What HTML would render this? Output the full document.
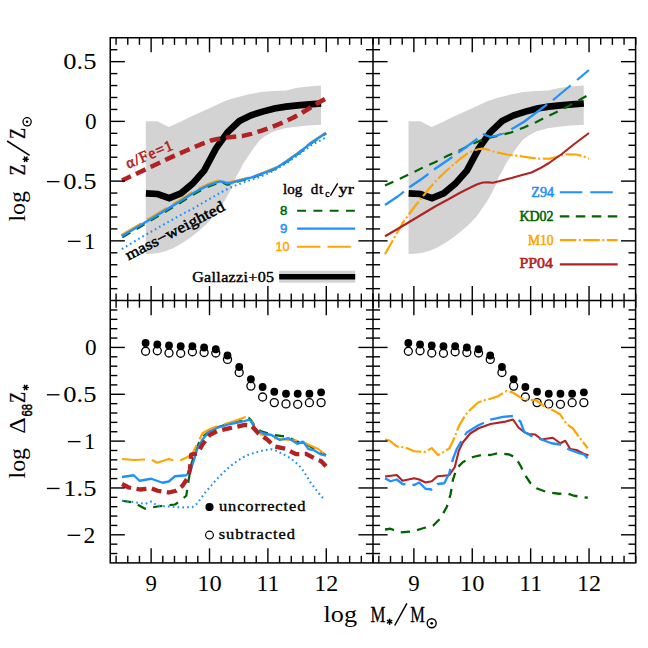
<!DOCTYPE html>
<html><head><meta charset="utf-8"><title>chart</title>
<style>html,body{margin:0;padding:0;background:#fff}svg{display:block}</style></head>
<body>
<svg width="648" height="648" viewBox="0 0 648 648">
<rect width="648" height="648" fill="#fff"/>
<polygon points="145.75,121.25 157.50,121.25 168.75,127.00 180.00,122.00 190.00,117.00 200.00,112.50 211.00,107.50 225.00,101.00 236.00,97.50 248.00,94.50 261.00,92.00 273.00,91.00 286.00,90.50 296.00,88.00 308.00,86.50 321.00,85.50 321.00,124.75 308.00,125.50 296.00,126.75 285.00,128.20 273.50,131.50 266.00,135.50 260.00,140.00 253.50,148.30 247.00,158.00 243.50,163.00 239.50,171.00 236.00,177.00 233.00,185.00 228.50,194.00 224.50,201.00 219.70,208.00 215.00,215.00 210.00,220.50 204.50,226.00 198.70,231.00 192.50,236.00 185.50,241.00 179.00,245.00 172.50,248.50 166.00,251.00 160.00,252.80 152.00,253.70 145.75,253.90" fill="#d3d3d3"/>
<polygon points="408.50,121.25 420.25,121.25 431.50,127.00 442.75,122.00 452.75,117.00 462.75,112.50 473.75,107.50 487.75,101.00 498.75,97.50 510.75,94.50 523.75,92.00 535.75,91.00 548.75,90.50 558.75,88.00 570.75,86.50 583.75,85.50 583.75,124.75 570.75,125.50 558.75,126.75 547.75,128.20 536.25,131.50 528.75,135.50 522.75,140.00 516.25,148.30 509.75,158.00 506.25,163.00 502.25,171.00 498.75,177.00 495.75,185.00 491.25,194.00 487.25,201.00 482.45,208.00 477.75,215.00 472.75,220.50 467.25,226.00 461.45,231.00 455.25,236.00 448.25,241.00 441.75,245.00 435.25,248.50 428.75,251.00 422.75,252.80 414.75,253.70 408.50,253.90" fill="#d3d3d3"/>
<polyline points="122.35,237.45 138.35,228.00 152.25,219.70 166.15,211.30 179.95,203.00 192.25,195.20 200.55,190.50 208.85,186.50 217.25,183.50 221.00,180.60 224.00,183.30 227.30,184.80 231.55,184.10 239.42,181.08 251.82,177.88 264.12,173.48 276.22,168.48 286.22,162.23 298.72,153.48 311.22,143.48 326.22,133.48" fill="none" stroke="#006400" stroke-width="2.1" stroke-linejoin="round" stroke-dasharray="9.3 7.2"/>
<polyline points="121.25,235.05 137.25,225.60 151.15,217.30 165.05,208.90 178.85,200.60 191.15,192.80 199.45,188.10 207.75,184.10 216.15,181.10 220.15,180.20 222.95,180.70 226.35,182.20 230.45,181.70 238.98,180.12 251.38,176.92 263.68,172.52 275.78,167.52 285.78,161.27 298.28,152.52 310.78,142.52 325.78,132.52" fill="none" stroke="#ffa500" stroke-width="2.1" stroke-linejoin="round" stroke-dasharray="23 7"/>
<polyline points="121.80,236.25 137.80,226.80 151.70,218.50 165.60,210.10 179.40,201.80 191.70,194.00 200.00,189.30 208.30,185.30 216.70,182.30 220.70,181.40 223.50,181.90 226.90,183.40 231.00,182.90 239.20,180.60 251.60,177.40 263.90,173.00 276.00,168.00 286.00,161.75 298.50,153.00 311.00,143.00 326.00,133.00" fill="none" stroke="#1e90ff" stroke-width="2.4" stroke-linejoin="round"/>
<polyline points="121.80,249.10 137.80,239.40 151.70,231.40 165.60,223.40 179.40,215.70 193.90,208.10 207.80,199.90 221.70,192.00 230.00,187.80 235.60,185.40 242.50,182.80 249.40,180.50 260.00,176.80 273.50,170.90 286.00,163.40 298.50,154.90 311.00,145.40 326.00,137.50" fill="none" stroke="#1e90ff" stroke-width="2.1" stroke-linejoin="round" stroke-dasharray="1.7 3.1"/>
<polyline points="145.90,193.30 157.58,194.00 169.26,198.20 180.94,193.30 192.62,183.60 204.30,170.40 215.98,148.40 227.66,132.10 239.34,121.00 251.02,115.30 262.70,111.60 274.38,108.50 286.06,106.60 297.74,105.40 309.42,104.40 321.10,103.50" fill="none" stroke="#000" stroke-width="6.7" stroke-linejoin="miter" stroke-linecap="butt"/>
<polyline points="408.65,193.30 420.33,194.00 432.01,198.20 443.69,193.30 455.37,183.60 467.05,170.40 478.73,148.40 490.41,132.10 502.09,121.00 513.77,115.30 525.45,111.60 537.13,108.50 548.81,106.60 560.49,105.40 572.17,104.40 583.85,103.50" fill="none" stroke="#000" stroke-width="6.7" stroke-linejoin="miter" stroke-linecap="butt"/>
<polyline points="122.00,180.50 147.00,168.70 172.50,156.60 187.00,150.20 200.00,144.70 212.00,140.20 222.00,138.00 232.00,137.00 243.00,135.90 252.00,133.60 261.00,130.80 272.00,127.00 283.00,122.50 293.00,117.80 302.00,112.80 312.00,106.70 320.00,101.80 326.25,98.20" fill="none" stroke="#b22222" stroke-width="4.5" stroke-linejoin="round" stroke-dasharray="10.6 5.6" stroke-dashoffset="0.8"/>
<polyline points="385.00,185.50 398.00,179.50 410.50,173.75 423.00,167.50 435.50,162.00 448.00,155.50 460.50,150.00 473.00,143.50 486.00,138.50 499.00,135.50 511.00,132.50 524.00,127.50 536.00,122.20 549.00,115.60 559.00,110.80 569.00,105.70 578.00,100.80 586.50,96.00" fill="none" stroke="#006400" stroke-width="2.2" stroke-linejoin="round" stroke-dasharray="9.2 7.1"/>
<polyline points="385.00,254.25 393.00,240.00 403.00,222.50 413.00,208.75 423.00,196.25 430.00,187.50 438.00,178.75 445.00,172.00 453.00,165.00 460.00,159.00 468.00,153.00 473.00,150.70 478.00,149.25 482.00,148.60 485.50,149.00 491.50,151.00 498.00,152.70 508.00,154.75 516.00,155.70 524.00,156.75 536.50,158.50 549.00,158.75 554.00,157.70 559.00,156.00 566.50,154.25 576.50,154.50 583.00,156.30 589.00,158.50" fill="none" stroke="#ffa500" stroke-width="2.2" stroke-linejoin="round" stroke-dasharray="16 2.6 2 2.6"/>
<polyline points="385.00,236.25 398.00,228.75 410.50,221.25 423.00,213.75 435.50,206.25 448.00,199.50 460.50,192.50 473.00,186.25 478.00,184.00 483.00,182.50 488.00,182.40 493.00,182.70 500.00,181.00 511.50,178.00 523.00,174.70 531.50,172.50 540.00,168.30 549.00,163.00 561.50,154.25 574.00,144.25 589.00,133.00" fill="none" stroke="#b22222" stroke-width="2.1" stroke-linejoin="round"/>
<polyline points="385.00,205.00 398.00,196.25 403.94,191.62" fill="none" stroke="#1e90ff" stroke-width="2.2" stroke-linejoin="round"/><polyline points="409.30,187.44 410.50,186.50 423.00,178.00 428.38,173.91" fill="none" stroke="#1e90ff" stroke-width="2.2" stroke-linejoin="round"/><polyline points="434.04,169.61 435.50,168.50 448.00,160.00 452.34,156.88" fill="none" stroke="#1e90ff" stroke-width="2.2" stroke-linejoin="round"/><polyline points="458.10,152.73 460.50,151.00 473.00,142.00 477.43,138.68" fill="none" stroke="#1e90ff" stroke-width="2.2" stroke-linejoin="round"/><polyline points="482.97,134.92 484.00,134.25 487.00,135.80 490.25,136.75 497.00,135.50 504.00,133.00 504.19,132.90" fill="none" stroke="#1e90ff" stroke-width="2.2" stroke-linejoin="round"/><polyline points="511.26,129.15 514.00,127.70 524.00,121.75 539.00,110.50 547.17,104.37" fill="none" stroke="#1e90ff" stroke-width="2.2" stroke-linejoin="round"/><polyline points="552.93,100.05 554.00,99.25 569.00,86.75 570.56,85.44" fill="none" stroke="#1e90ff" stroke-width="2.2" stroke-linejoin="round"/><polyline points="577.08,79.99 589.00,70.00" fill="none" stroke="#1e90ff" stroke-width="2.2" stroke-linejoin="round"/>
<circle cx="145.60" cy="351.25" r="4" fill="#fff" stroke="#000" stroke-width="1.3"/>
<circle cx="157.30" cy="350.75" r="4" fill="#fff" stroke="#000" stroke-width="1.3"/>
<circle cx="169.00" cy="353.00" r="4" fill="#fff" stroke="#000" stroke-width="1.3"/>
<circle cx="180.70" cy="353.25" r="4" fill="#fff" stroke="#000" stroke-width="1.3"/>
<circle cx="192.40" cy="351.75" r="4" fill="#fff" stroke="#000" stroke-width="1.3"/>
<circle cx="204.10" cy="352.50" r="4" fill="#fff" stroke="#000" stroke-width="1.3"/>
<circle cx="215.80" cy="353.00" r="4" fill="#fff" stroke="#000" stroke-width="1.3"/>
<circle cx="227.50" cy="359.40" r="4" fill="#fff" stroke="#000" stroke-width="1.3"/>
<circle cx="239.20" cy="372.50" r="4" fill="#fff" stroke="#000" stroke-width="1.3"/>
<circle cx="250.90" cy="386.10" r="4" fill="#fff" stroke="#000" stroke-width="1.3"/>
<circle cx="262.60" cy="397.00" r="4" fill="#fff" stroke="#000" stroke-width="1.3"/>
<circle cx="274.30" cy="402.60" r="4" fill="#fff" stroke="#000" stroke-width="1.3"/>
<circle cx="286.00" cy="403.90" r="4" fill="#fff" stroke="#000" stroke-width="1.3"/>
<circle cx="297.70" cy="404.30" r="4" fill="#fff" stroke="#000" stroke-width="1.3"/>
<circle cx="309.40" cy="402.70" r="4" fill="#fff" stroke="#000" stroke-width="1.3"/>
<circle cx="321.10" cy="402.60" r="4" fill="#fff" stroke="#000" stroke-width="1.3"/>
<circle cx="145.60" cy="343.00" r="3.9" fill="#000"/>
<circle cx="157.30" cy="344.50" r="3.9" fill="#000"/>
<circle cx="169.00" cy="345.50" r="3.9" fill="#000"/>
<circle cx="180.70" cy="346.25" r="3.9" fill="#000"/>
<circle cx="192.40" cy="346.25" r="3.9" fill="#000"/>
<circle cx="204.10" cy="347.50" r="3.9" fill="#000"/>
<circle cx="215.80" cy="349.25" r="3.9" fill="#000"/>
<circle cx="227.50" cy="355.50" r="3.9" fill="#000"/>
<circle cx="239.20" cy="367.00" r="3.9" fill="#000"/>
<circle cx="250.90" cy="379.25" r="3.9" fill="#000"/>
<circle cx="262.60" cy="387.00" r="3.9" fill="#000"/>
<circle cx="274.30" cy="391.75" r="3.9" fill="#000"/>
<circle cx="286.00" cy="393.75" r="3.9" fill="#000"/>
<circle cx="297.70" cy="393.75" r="3.9" fill="#000"/>
<circle cx="309.40" cy="393.75" r="3.9" fill="#000"/>
<circle cx="321.10" cy="392.30" r="3.9" fill="#000"/>
<circle cx="408.35" cy="351.25" r="4" fill="#fff" stroke="#000" stroke-width="1.3"/>
<circle cx="420.05" cy="350.75" r="4" fill="#fff" stroke="#000" stroke-width="1.3"/>
<circle cx="431.75" cy="353.00" r="4" fill="#fff" stroke="#000" stroke-width="1.3"/>
<circle cx="443.45" cy="353.25" r="4" fill="#fff" stroke="#000" stroke-width="1.3"/>
<circle cx="455.15" cy="351.75" r="4" fill="#fff" stroke="#000" stroke-width="1.3"/>
<circle cx="466.85" cy="352.50" r="4" fill="#fff" stroke="#000" stroke-width="1.3"/>
<circle cx="478.55" cy="353.00" r="4" fill="#fff" stroke="#000" stroke-width="1.3"/>
<circle cx="490.25" cy="359.40" r="4" fill="#fff" stroke="#000" stroke-width="1.3"/>
<circle cx="501.95" cy="372.50" r="4" fill="#fff" stroke="#000" stroke-width="1.3"/>
<circle cx="513.65" cy="386.10" r="4" fill="#fff" stroke="#000" stroke-width="1.3"/>
<circle cx="525.35" cy="397.00" r="4" fill="#fff" stroke="#000" stroke-width="1.3"/>
<circle cx="537.05" cy="402.60" r="4" fill="#fff" stroke="#000" stroke-width="1.3"/>
<circle cx="548.75" cy="403.90" r="4" fill="#fff" stroke="#000" stroke-width="1.3"/>
<circle cx="560.45" cy="404.30" r="4" fill="#fff" stroke="#000" stroke-width="1.3"/>
<circle cx="572.15" cy="402.70" r="4" fill="#fff" stroke="#000" stroke-width="1.3"/>
<circle cx="583.85" cy="402.60" r="4" fill="#fff" stroke="#000" stroke-width="1.3"/>
<circle cx="408.35" cy="343.00" r="3.9" fill="#000"/>
<circle cx="420.05" cy="344.50" r="3.9" fill="#000"/>
<circle cx="431.75" cy="345.50" r="3.9" fill="#000"/>
<circle cx="443.45" cy="346.25" r="3.9" fill="#000"/>
<circle cx="455.15" cy="346.25" r="3.9" fill="#000"/>
<circle cx="466.85" cy="347.50" r="3.9" fill="#000"/>
<circle cx="478.55" cy="349.25" r="3.9" fill="#000"/>
<circle cx="490.25" cy="355.50" r="3.9" fill="#000"/>
<circle cx="501.95" cy="367.00" r="3.9" fill="#000"/>
<circle cx="513.65" cy="379.25" r="3.9" fill="#000"/>
<circle cx="525.35" cy="387.00" r="3.9" fill="#000"/>
<circle cx="537.05" cy="391.75" r="3.9" fill="#000"/>
<circle cx="548.75" cy="393.75" r="3.9" fill="#000"/>
<circle cx="560.45" cy="393.75" r="3.9" fill="#000"/>
<circle cx="572.15" cy="393.75" r="3.9" fill="#000"/>
<circle cx="583.85" cy="392.30" r="3.9" fill="#000"/>
<polyline points="122.00,500.75 133.75,502.50 145.00,508.75 157.50,506.50 175.00,504.50 181.25,500.00 186.25,495.75 188.75,479.50 191.25,464.50 195.00,452.00 198.75,443.25 203.75,435.75 210.00,430.75 217.50,427.25 230.00,423.50 242.50,420.50 248.75,417.80 251.00,420.00 256.00,428.00 261.00,431.25 273.50,435.00 288.50,437.00 296.00,441.25 306.00,444.00 316.00,450.00 326.00,455.30" fill="none" stroke="#006400" stroke-width="2.2" stroke-linejoin="round" stroke-dasharray="9.3 7.2"/>
<polyline points="122.00,459.00 133.75,460.00 145.00,459.50 151.25,459.50 157.00,462.75 168.75,459.00 175.00,460.75 181.25,460.00 187.00,457.30 192.50,453.50 197.50,443.25 202.50,433.25 210.00,429.00 217.50,426.25 230.00,422.50 245.00,417.20 248.50,418.70 251.25,421.00 255.00,428.00 261.00,434.50 271.00,437.50 281.00,439.25 296.00,440.50 303.50,442.50 311.00,445.75 318.50,449.25 326.00,455.00" fill="none" stroke="#ffa500" stroke-width="2.2" stroke-linejoin="round" stroke-dasharray="23 7"/>
<polyline points="122.00,477.00 133.75,475.25 139.50,480.75 151.25,478.75 162.50,482.75 168.75,481.50 175.00,476.25 186.25,475.25 190.00,472.00 193.75,460.75 197.50,448.25 202.50,439.50 208.75,432.00 217.50,427.75 230.00,424.00 242.50,421.50 250.00,419.70 256.00,430.00 263.50,433.50 271.50,435.00 279.75,440.00 288.50,438.10 297.25,443.90 303.00,441.60 308.50,449.10 313.50,450.00 321.00,454.50 326.00,455.60" fill="none" stroke="#1e90ff" stroke-width="2.3" stroke-linejoin="round"/>
<polyline points="122.00,500.75 133.75,502.00 145.00,504.00 151.25,501.50 157.50,505.75 168.75,506.50 181.25,507.50 192.50,507.00 196.50,504.00 200.00,499.60 205.00,492.80 210.80,486.00 216.00,480.00 221.60,474.30 227.00,469.00 232.40,464.60 238.00,460.50 243.20,457.20 248.50,454.80 254.00,452.90 259.50,451.30 264.80,450.10 271.30,449.30 276.00,450.60 279.90,452.60 284.00,454.60 288.60,457.20 293.00,460.20 297.20,463.70 300.50,467.30 303.70,471.30 307.00,476.50 310.20,482.00 314.00,487.00 317.70,491.80 321.00,496.00 324.50,499.60" fill="none" stroke="#1e90ff" stroke-width="2.1" stroke-linejoin="round" stroke-dasharray="1.7 3.1"/>
<polyline points="122.00,484.00 128.75,487.50 140.00,489.50 151.25,488.25 157.50,490.75 168.75,492.50 176.25,490.75 182.50,485.75 187.50,478.25 190.00,469.50 191.25,454.50 197.50,453.50 202.50,444.50 210.00,434.70 217.50,431.00 230.00,428.20 245.00,424.80 251.25,425.50 258.50,433.50 267.50,439.70 274.00,446.30 286.00,448.90 296.00,454.20 306.00,453.80 316.00,459.20 321.00,461.00 326.00,466.30" fill="none" stroke="#b22222" stroke-width="4.3" stroke-linejoin="round" stroke-dasharray="10 5.5"/>
<polyline points="385.00,529.50 390.50,528.75 400.50,532.50 413.00,531.25 423.00,528.25 433.00,525.75 440.50,518.25 446.75,507.00 450.50,494.50 453.00,479.50 456.75,468.25 463.00,462.00 473.00,457.00 483.00,454.50 490.50,455.00 498.00,453.25 509.25,454.50 515.50,457.50 520.50,465.75 525.50,475.75 530.50,483.25 536.50,488.25 546.50,492.00 559.00,493.75 566.50,493.25 574.00,495.75 587.75,497.75" fill="none" stroke="#006400" stroke-width="2.3" stroke-linejoin="round" stroke-dasharray="9.3 7.2"/>
<polyline points="385.00,439.50 389.50,440.50 396.75,446.40 405.50,447.50 414.25,451.25 425.50,451.90 431.75,448.10 438.00,455.10 443.50,452.00 449.25,448.50 453.00,441.00 459.25,425.40 465.50,414.70 471.00,409.00 478.00,402.50 484.00,400.30 490.50,398.80 498.00,396.25 506.50,391.00 511.50,392.00 516.00,394.50 521.50,398.20 528.00,399.70 536.50,400.50 545.25,407.00 554.00,410.75 560.25,414.50 566.50,424.00 572.75,428.25 579.00,437.00 587.75,448.25" fill="none" stroke="#ffa500" stroke-width="2.2" stroke-linejoin="round" stroke-dasharray="16 2.6 2 2.6"/>
<polyline points="385.00,476.50 396.75,475.00 402.50,480.75 414.25,478.25 419.25,479.50 425.50,482.50 431.75,481.25 437.50,476.25 449.25,475.25 454.80,467.00 458.80,450.75 462.70,442.50 470.20,433.50 478.60,428.25 490.50,424.00 505.50,421.60 513.00,419.50 518.50,427.50 524.00,432.00 529.00,434.00 535.25,434.50 541.50,439.50 552.75,437.75 560.25,443.25 565.25,440.75 570.25,449.00 576.50,450.00 584.00,454.00 588.50,455.25" fill="none" stroke="#b22222" stroke-width="2.1" stroke-linejoin="round"/>
<polyline points="385.00,478.25 390.50,481.25 396.75,479.50 402.50,484.00 414.25,485.00 419.25,482.50 425.50,488.75 431.75,489.50 437.50,484.00 444.25,483.25 449.25,473.25 453.00,458.75 456.75,449.00 461.75,440.40 466.75,432.50 478.00,425.50 490.50,419.70 503.00,416.80 513.00,416.00 520.40,421.50 524.20,432.00 530.50,435.60 536.00,437.50 541.50,439.50 551.50,443.25 560.25,444.50 569.00,449.50 579.00,453.25 584.00,454.50 587.75,458.25" fill="none" stroke="#1e90ff" stroke-width="2.3" stroke-linejoin="round" stroke-dasharray="23 7"/>
<line x1="297.1" y1="210.8" x2="355.2" y2="210.8" stroke="#006400" stroke-width="2.1" stroke-dasharray="8.9 7.4"/>
<line x1="297.1" y1="228.6" x2="355.2" y2="228.6" stroke="#1e90ff" stroke-width="2.1"/>
<line x1="297.1" y1="246.7" x2="350.7" y2="246.7" stroke="#ffa500" stroke-width="2.1" stroke-dasharray="23.3 7.1"/>
<rect x="279.2" y="270.7" width="76" height="12" fill="#d3d3d3"/>
<line x1="279.2" y1="276.8" x2="355.2" y2="276.8" stroke="#000" stroke-width="5.5"/>
<line x1="559.8" y1="192.25" x2="613" y2="192.25" stroke="#1e90ff" stroke-width="2.2" stroke-dasharray="22.5 8"/>
<line x1="559.8" y1="216.4" x2="617.7" y2="216.4" stroke="#006400" stroke-width="2.2" stroke-dasharray="9.5 6.5"/>
<line x1="559.8" y1="240.2" x2="617.7" y2="240.2" stroke="#ffa500" stroke-width="2.2" stroke-dasharray="16.5 2.5 2 2.5"/>
<line x1="559.8" y1="264.4" x2="617.7" y2="264.4" stroke="#b22222" stroke-width="2.1"/>
<circle cx="209.5" cy="507" r="4.1" fill="#000"/>
<circle cx="209.5" cy="535.1" r="3.9" fill="#fff" stroke="#000" stroke-width="1.2"/>
<g stroke="#000" stroke-width="1.5" fill="none">
<rect x="110.25" y="37.75" width="525.35" height="525.15"/>
<line x1="373.0" y1="37.75" x2="373.0" y2="562.9"/>
<line x1="110.25" y1="300.6" x2="635.6" y2="300.6"/>
</g>
<g stroke="#000" stroke-width="1.4">
<line x1="116.09" y1="37.75" x2="116.09" y2="44.85"/>
<line x1="116.09" y1="293.50" x2="116.09" y2="307.70"/>
<line x1="116.09" y1="555.80" x2="116.09" y2="562.90"/>
<line x1="127.77" y1="37.75" x2="127.77" y2="44.85"/>
<line x1="127.77" y1="293.50" x2="127.77" y2="307.70"/>
<line x1="127.77" y1="555.80" x2="127.77" y2="562.90"/>
<line x1="139.44" y1="37.75" x2="139.44" y2="44.85"/>
<line x1="139.44" y1="293.50" x2="139.44" y2="307.70"/>
<line x1="139.44" y1="555.80" x2="139.44" y2="562.90"/>
<line x1="151.12" y1="37.75" x2="151.12" y2="52.35"/>
<line x1="151.12" y1="286.00" x2="151.12" y2="315.20"/>
<line x1="151.12" y1="548.30" x2="151.12" y2="562.90"/>
<line x1="162.80" y1="37.75" x2="162.80" y2="44.85"/>
<line x1="162.80" y1="293.50" x2="162.80" y2="307.70"/>
<line x1="162.80" y1="555.80" x2="162.80" y2="562.90"/>
<line x1="174.48" y1="37.75" x2="174.48" y2="44.85"/>
<line x1="174.48" y1="293.50" x2="174.48" y2="307.70"/>
<line x1="174.48" y1="555.80" x2="174.48" y2="562.90"/>
<line x1="186.16" y1="37.75" x2="186.16" y2="44.85"/>
<line x1="186.16" y1="293.50" x2="186.16" y2="307.70"/>
<line x1="186.16" y1="555.80" x2="186.16" y2="562.90"/>
<line x1="197.83" y1="37.75" x2="197.83" y2="44.85"/>
<line x1="197.83" y1="293.50" x2="197.83" y2="307.70"/>
<line x1="197.83" y1="555.80" x2="197.83" y2="562.90"/>
<line x1="209.51" y1="37.75" x2="209.51" y2="52.35"/>
<line x1="209.51" y1="286.00" x2="209.51" y2="315.20"/>
<line x1="209.51" y1="548.30" x2="209.51" y2="562.90"/>
<line x1="221.19" y1="37.75" x2="221.19" y2="44.85"/>
<line x1="221.19" y1="293.50" x2="221.19" y2="307.70"/>
<line x1="221.19" y1="555.80" x2="221.19" y2="562.90"/>
<line x1="232.87" y1="37.75" x2="232.87" y2="44.85"/>
<line x1="232.87" y1="293.50" x2="232.87" y2="307.70"/>
<line x1="232.87" y1="555.80" x2="232.87" y2="562.90"/>
<line x1="244.54" y1="37.75" x2="244.54" y2="44.85"/>
<line x1="244.54" y1="293.50" x2="244.54" y2="307.70"/>
<line x1="244.54" y1="555.80" x2="244.54" y2="562.90"/>
<line x1="256.22" y1="37.75" x2="256.22" y2="44.85"/>
<line x1="256.22" y1="293.50" x2="256.22" y2="307.70"/>
<line x1="256.22" y1="555.80" x2="256.22" y2="562.90"/>
<line x1="267.90" y1="37.75" x2="267.90" y2="52.35"/>
<line x1="267.90" y1="286.00" x2="267.90" y2="315.20"/>
<line x1="267.90" y1="548.30" x2="267.90" y2="562.90"/>
<line x1="279.58" y1="37.75" x2="279.58" y2="44.85"/>
<line x1="279.58" y1="293.50" x2="279.58" y2="307.70"/>
<line x1="279.58" y1="555.80" x2="279.58" y2="562.90"/>
<line x1="291.26" y1="37.75" x2="291.26" y2="44.85"/>
<line x1="291.26" y1="293.50" x2="291.26" y2="307.70"/>
<line x1="291.26" y1="555.80" x2="291.26" y2="562.90"/>
<line x1="302.93" y1="37.75" x2="302.93" y2="44.85"/>
<line x1="302.93" y1="293.50" x2="302.93" y2="307.70"/>
<line x1="302.93" y1="555.80" x2="302.93" y2="562.90"/>
<line x1="314.61" y1="37.75" x2="314.61" y2="44.85"/>
<line x1="314.61" y1="293.50" x2="314.61" y2="307.70"/>
<line x1="314.61" y1="555.80" x2="314.61" y2="562.90"/>
<line x1="326.29" y1="37.75" x2="326.29" y2="52.35"/>
<line x1="326.29" y1="286.00" x2="326.29" y2="315.20"/>
<line x1="326.29" y1="548.30" x2="326.29" y2="562.90"/>
<line x1="337.97" y1="37.75" x2="337.97" y2="44.85"/>
<line x1="337.97" y1="293.50" x2="337.97" y2="307.70"/>
<line x1="337.97" y1="555.80" x2="337.97" y2="562.90"/>
<line x1="349.64" y1="37.75" x2="349.64" y2="44.85"/>
<line x1="349.64" y1="293.50" x2="349.64" y2="307.70"/>
<line x1="349.64" y1="555.80" x2="349.64" y2="562.90"/>
<line x1="361.32" y1="37.75" x2="361.32" y2="44.85"/>
<line x1="361.32" y1="293.50" x2="361.32" y2="307.70"/>
<line x1="361.32" y1="555.80" x2="361.32" y2="562.90"/>
<line x1="373.00" y1="37.75" x2="373.00" y2="44.85"/>
<line x1="373.00" y1="293.50" x2="373.00" y2="307.70"/>
<line x1="373.00" y1="555.80" x2="373.00" y2="562.90"/>
<line x1="378.84" y1="37.75" x2="378.84" y2="44.85"/>
<line x1="378.84" y1="293.50" x2="378.84" y2="307.70"/>
<line x1="378.84" y1="555.80" x2="378.84" y2="562.90"/>
<line x1="390.52" y1="37.75" x2="390.52" y2="44.85"/>
<line x1="390.52" y1="293.50" x2="390.52" y2="307.70"/>
<line x1="390.52" y1="555.80" x2="390.52" y2="562.90"/>
<line x1="402.19" y1="37.75" x2="402.19" y2="44.85"/>
<line x1="402.19" y1="293.50" x2="402.19" y2="307.70"/>
<line x1="402.19" y1="555.80" x2="402.19" y2="562.90"/>
<line x1="413.87" y1="37.75" x2="413.87" y2="52.35"/>
<line x1="413.87" y1="286.00" x2="413.87" y2="315.20"/>
<line x1="413.87" y1="548.30" x2="413.87" y2="562.90"/>
<line x1="425.55" y1="37.75" x2="425.55" y2="44.85"/>
<line x1="425.55" y1="293.50" x2="425.55" y2="307.70"/>
<line x1="425.55" y1="555.80" x2="425.55" y2="562.90"/>
<line x1="437.23" y1="37.75" x2="437.23" y2="44.85"/>
<line x1="437.23" y1="293.50" x2="437.23" y2="307.70"/>
<line x1="437.23" y1="555.80" x2="437.23" y2="562.90"/>
<line x1="448.91" y1="37.75" x2="448.91" y2="44.85"/>
<line x1="448.91" y1="293.50" x2="448.91" y2="307.70"/>
<line x1="448.91" y1="555.80" x2="448.91" y2="562.90"/>
<line x1="460.58" y1="37.75" x2="460.58" y2="44.85"/>
<line x1="460.58" y1="293.50" x2="460.58" y2="307.70"/>
<line x1="460.58" y1="555.80" x2="460.58" y2="562.90"/>
<line x1="472.26" y1="37.75" x2="472.26" y2="52.35"/>
<line x1="472.26" y1="286.00" x2="472.26" y2="315.20"/>
<line x1="472.26" y1="548.30" x2="472.26" y2="562.90"/>
<line x1="483.94" y1="37.75" x2="483.94" y2="44.85"/>
<line x1="483.94" y1="293.50" x2="483.94" y2="307.70"/>
<line x1="483.94" y1="555.80" x2="483.94" y2="562.90"/>
<line x1="495.62" y1="37.75" x2="495.62" y2="44.85"/>
<line x1="495.62" y1="293.50" x2="495.62" y2="307.70"/>
<line x1="495.62" y1="555.80" x2="495.62" y2="562.90"/>
<line x1="507.29" y1="37.75" x2="507.29" y2="44.85"/>
<line x1="507.29" y1="293.50" x2="507.29" y2="307.70"/>
<line x1="507.29" y1="555.80" x2="507.29" y2="562.90"/>
<line x1="518.97" y1="37.75" x2="518.97" y2="44.85"/>
<line x1="518.97" y1="293.50" x2="518.97" y2="307.70"/>
<line x1="518.97" y1="555.80" x2="518.97" y2="562.90"/>
<line x1="530.65" y1="37.75" x2="530.65" y2="52.35"/>
<line x1="530.65" y1="286.00" x2="530.65" y2="315.20"/>
<line x1="530.65" y1="548.30" x2="530.65" y2="562.90"/>
<line x1="542.33" y1="37.75" x2="542.33" y2="44.85"/>
<line x1="542.33" y1="293.50" x2="542.33" y2="307.70"/>
<line x1="542.33" y1="555.80" x2="542.33" y2="562.90"/>
<line x1="554.01" y1="37.75" x2="554.01" y2="44.85"/>
<line x1="554.01" y1="293.50" x2="554.01" y2="307.70"/>
<line x1="554.01" y1="555.80" x2="554.01" y2="562.90"/>
<line x1="565.68" y1="37.75" x2="565.68" y2="44.85"/>
<line x1="565.68" y1="293.50" x2="565.68" y2="307.70"/>
<line x1="565.68" y1="555.80" x2="565.68" y2="562.90"/>
<line x1="577.36" y1="37.75" x2="577.36" y2="44.85"/>
<line x1="577.36" y1="293.50" x2="577.36" y2="307.70"/>
<line x1="577.36" y1="555.80" x2="577.36" y2="562.90"/>
<line x1="589.04" y1="37.75" x2="589.04" y2="52.35"/>
<line x1="589.04" y1="286.00" x2="589.04" y2="315.20"/>
<line x1="589.04" y1="548.30" x2="589.04" y2="562.90"/>
<line x1="600.72" y1="37.75" x2="600.72" y2="44.85"/>
<line x1="600.72" y1="293.50" x2="600.72" y2="307.70"/>
<line x1="600.72" y1="555.80" x2="600.72" y2="562.90"/>
<line x1="612.39" y1="37.75" x2="612.39" y2="44.85"/>
<line x1="612.39" y1="293.50" x2="612.39" y2="307.70"/>
<line x1="612.39" y1="555.80" x2="612.39" y2="562.90"/>
<line x1="624.07" y1="37.75" x2="624.07" y2="44.85"/>
<line x1="624.07" y1="293.50" x2="624.07" y2="307.70"/>
<line x1="624.07" y1="555.80" x2="624.07" y2="562.90"/>
<line x1="635.75" y1="37.75" x2="635.75" y2="44.85"/>
<line x1="635.75" y1="293.50" x2="635.75" y2="307.70"/>
<line x1="635.75" y1="555.80" x2="635.75" y2="562.90"/>
<line x1="110.25" y1="49.70" x2="117.35" y2="49.70"/>
<line x1="365.90" y1="49.70" x2="380.10" y2="49.70"/>
<line x1="628.50" y1="49.70" x2="635.60" y2="49.70"/>
<line x1="110.25" y1="61.65" x2="124.85" y2="61.65"/>
<line x1="358.40" y1="61.65" x2="387.60" y2="61.65"/>
<line x1="621.00" y1="61.65" x2="635.60" y2="61.65"/>
<line x1="110.25" y1="73.59" x2="117.35" y2="73.59"/>
<line x1="365.90" y1="73.59" x2="380.10" y2="73.59"/>
<line x1="628.50" y1="73.59" x2="635.60" y2="73.59"/>
<line x1="110.25" y1="85.54" x2="117.35" y2="85.54"/>
<line x1="365.90" y1="85.54" x2="380.10" y2="85.54"/>
<line x1="628.50" y1="85.54" x2="635.60" y2="85.54"/>
<line x1="110.25" y1="97.49" x2="117.35" y2="97.49"/>
<line x1="365.90" y1="97.49" x2="380.10" y2="97.49"/>
<line x1="628.50" y1="97.49" x2="635.60" y2="97.49"/>
<line x1="110.25" y1="109.44" x2="117.35" y2="109.44"/>
<line x1="365.90" y1="109.44" x2="380.10" y2="109.44"/>
<line x1="628.50" y1="109.44" x2="635.60" y2="109.44"/>
<line x1="110.25" y1="121.38" x2="124.85" y2="121.38"/>
<line x1="358.40" y1="121.38" x2="387.60" y2="121.38"/>
<line x1="621.00" y1="121.38" x2="635.60" y2="121.38"/>
<line x1="110.25" y1="133.33" x2="117.35" y2="133.33"/>
<line x1="365.90" y1="133.33" x2="380.10" y2="133.33"/>
<line x1="628.50" y1="133.33" x2="635.60" y2="133.33"/>
<line x1="110.25" y1="145.28" x2="117.35" y2="145.28"/>
<line x1="365.90" y1="145.28" x2="380.10" y2="145.28"/>
<line x1="628.50" y1="145.28" x2="635.60" y2="145.28"/>
<line x1="110.25" y1="157.23" x2="117.35" y2="157.23"/>
<line x1="365.90" y1="157.23" x2="380.10" y2="157.23"/>
<line x1="628.50" y1="157.23" x2="635.60" y2="157.23"/>
<line x1="110.25" y1="169.18" x2="117.35" y2="169.18"/>
<line x1="365.90" y1="169.18" x2="380.10" y2="169.18"/>
<line x1="628.50" y1="169.18" x2="635.60" y2="169.18"/>
<line x1="110.25" y1="181.12" x2="124.85" y2="181.12"/>
<line x1="358.40" y1="181.12" x2="387.60" y2="181.12"/>
<line x1="621.00" y1="181.12" x2="635.60" y2="181.12"/>
<line x1="110.25" y1="193.07" x2="117.35" y2="193.07"/>
<line x1="365.90" y1="193.07" x2="380.10" y2="193.07"/>
<line x1="628.50" y1="193.07" x2="635.60" y2="193.07"/>
<line x1="110.25" y1="205.02" x2="117.35" y2="205.02"/>
<line x1="365.90" y1="205.02" x2="380.10" y2="205.02"/>
<line x1="628.50" y1="205.02" x2="635.60" y2="205.02"/>
<line x1="110.25" y1="216.97" x2="117.35" y2="216.97"/>
<line x1="365.90" y1="216.97" x2="380.10" y2="216.97"/>
<line x1="628.50" y1="216.97" x2="635.60" y2="216.97"/>
<line x1="110.25" y1="228.91" x2="117.35" y2="228.91"/>
<line x1="365.90" y1="228.91" x2="380.10" y2="228.91"/>
<line x1="628.50" y1="228.91" x2="635.60" y2="228.91"/>
<line x1="110.25" y1="240.86" x2="124.85" y2="240.86"/>
<line x1="358.40" y1="240.86" x2="387.60" y2="240.86"/>
<line x1="621.00" y1="240.86" x2="635.60" y2="240.86"/>
<line x1="110.25" y1="252.81" x2="117.35" y2="252.81"/>
<line x1="365.90" y1="252.81" x2="380.10" y2="252.81"/>
<line x1="628.50" y1="252.81" x2="635.60" y2="252.81"/>
<line x1="110.25" y1="264.76" x2="117.35" y2="264.76"/>
<line x1="365.90" y1="264.76" x2="380.10" y2="264.76"/>
<line x1="628.50" y1="264.76" x2="635.60" y2="264.76"/>
<line x1="110.25" y1="276.70" x2="117.35" y2="276.70"/>
<line x1="365.90" y1="276.70" x2="380.10" y2="276.70"/>
<line x1="628.50" y1="276.70" x2="635.60" y2="276.70"/>
<line x1="110.25" y1="288.65" x2="117.35" y2="288.65"/>
<line x1="365.90" y1="288.65" x2="380.10" y2="288.65"/>
<line x1="628.50" y1="288.65" x2="635.60" y2="288.65"/>
<line x1="110.25" y1="309.97" x2="117.35" y2="309.97"/>
<line x1="365.90" y1="309.97" x2="380.10" y2="309.97"/>
<line x1="628.50" y1="309.97" x2="635.60" y2="309.97"/>
<line x1="110.25" y1="319.34" x2="117.35" y2="319.34"/>
<line x1="365.90" y1="319.34" x2="380.10" y2="319.34"/>
<line x1="628.50" y1="319.34" x2="635.60" y2="319.34"/>
<line x1="110.25" y1="328.70" x2="117.35" y2="328.70"/>
<line x1="365.90" y1="328.70" x2="380.10" y2="328.70"/>
<line x1="628.50" y1="328.70" x2="635.60" y2="328.70"/>
<line x1="110.25" y1="338.07" x2="117.35" y2="338.07"/>
<line x1="365.90" y1="338.07" x2="380.10" y2="338.07"/>
<line x1="628.50" y1="338.07" x2="635.60" y2="338.07"/>
<line x1="110.25" y1="347.44" x2="124.85" y2="347.44"/>
<line x1="358.40" y1="347.44" x2="387.60" y2="347.44"/>
<line x1="621.00" y1="347.44" x2="635.60" y2="347.44"/>
<line x1="110.25" y1="356.81" x2="117.35" y2="356.81"/>
<line x1="365.90" y1="356.81" x2="380.10" y2="356.81"/>
<line x1="628.50" y1="356.81" x2="635.60" y2="356.81"/>
<line x1="110.25" y1="366.18" x2="117.35" y2="366.18"/>
<line x1="365.90" y1="366.18" x2="380.10" y2="366.18"/>
<line x1="628.50" y1="366.18" x2="635.60" y2="366.18"/>
<line x1="110.25" y1="375.54" x2="117.35" y2="375.54"/>
<line x1="365.90" y1="375.54" x2="380.10" y2="375.54"/>
<line x1="628.50" y1="375.54" x2="635.60" y2="375.54"/>
<line x1="110.25" y1="384.91" x2="117.35" y2="384.91"/>
<line x1="365.90" y1="384.91" x2="380.10" y2="384.91"/>
<line x1="628.50" y1="384.91" x2="635.60" y2="384.91"/>
<line x1="110.25" y1="394.28" x2="124.85" y2="394.28"/>
<line x1="358.40" y1="394.28" x2="387.60" y2="394.28"/>
<line x1="621.00" y1="394.28" x2="635.60" y2="394.28"/>
<line x1="110.25" y1="403.65" x2="117.35" y2="403.65"/>
<line x1="365.90" y1="403.65" x2="380.10" y2="403.65"/>
<line x1="628.50" y1="403.65" x2="635.60" y2="403.65"/>
<line x1="110.25" y1="413.01" x2="117.35" y2="413.01"/>
<line x1="365.90" y1="413.01" x2="380.10" y2="413.01"/>
<line x1="628.50" y1="413.01" x2="635.60" y2="413.01"/>
<line x1="110.25" y1="422.38" x2="117.35" y2="422.38"/>
<line x1="365.90" y1="422.38" x2="380.10" y2="422.38"/>
<line x1="628.50" y1="422.38" x2="635.60" y2="422.38"/>
<line x1="110.25" y1="431.75" x2="117.35" y2="431.75"/>
<line x1="365.90" y1="431.75" x2="380.10" y2="431.75"/>
<line x1="628.50" y1="431.75" x2="635.60" y2="431.75"/>
<line x1="110.25" y1="441.12" x2="124.85" y2="441.12"/>
<line x1="358.40" y1="441.12" x2="387.60" y2="441.12"/>
<line x1="621.00" y1="441.12" x2="635.60" y2="441.12"/>
<line x1="110.25" y1="450.49" x2="117.35" y2="450.49"/>
<line x1="365.90" y1="450.49" x2="380.10" y2="450.49"/>
<line x1="628.50" y1="450.49" x2="635.60" y2="450.49"/>
<line x1="110.25" y1="459.85" x2="117.35" y2="459.85"/>
<line x1="365.90" y1="459.85" x2="380.10" y2="459.85"/>
<line x1="628.50" y1="459.85" x2="635.60" y2="459.85"/>
<line x1="110.25" y1="469.22" x2="117.35" y2="469.22"/>
<line x1="365.90" y1="469.22" x2="380.10" y2="469.22"/>
<line x1="628.50" y1="469.22" x2="635.60" y2="469.22"/>
<line x1="110.25" y1="478.59" x2="117.35" y2="478.59"/>
<line x1="365.90" y1="478.59" x2="380.10" y2="478.59"/>
<line x1="628.50" y1="478.59" x2="635.60" y2="478.59"/>
<line x1="110.25" y1="487.96" x2="124.85" y2="487.96"/>
<line x1="358.40" y1="487.96" x2="387.60" y2="487.96"/>
<line x1="621.00" y1="487.96" x2="635.60" y2="487.96"/>
<line x1="110.25" y1="497.33" x2="117.35" y2="497.33"/>
<line x1="365.90" y1="497.33" x2="380.10" y2="497.33"/>
<line x1="628.50" y1="497.33" x2="635.60" y2="497.33"/>
<line x1="110.25" y1="506.69" x2="117.35" y2="506.69"/>
<line x1="365.90" y1="506.69" x2="380.10" y2="506.69"/>
<line x1="628.50" y1="506.69" x2="635.60" y2="506.69"/>
<line x1="110.25" y1="516.06" x2="117.35" y2="516.06"/>
<line x1="365.90" y1="516.06" x2="380.10" y2="516.06"/>
<line x1="628.50" y1="516.06" x2="635.60" y2="516.06"/>
<line x1="110.25" y1="525.43" x2="117.35" y2="525.43"/>
<line x1="365.90" y1="525.43" x2="380.10" y2="525.43"/>
<line x1="628.50" y1="525.43" x2="635.60" y2="525.43"/>
<line x1="110.25" y1="534.80" x2="124.85" y2="534.80"/>
<line x1="358.40" y1="534.80" x2="387.60" y2="534.80"/>
<line x1="621.00" y1="534.80" x2="635.60" y2="534.80"/>
<line x1="110.25" y1="544.16" x2="117.35" y2="544.16"/>
<line x1="365.90" y1="544.16" x2="380.10" y2="544.16"/>
<line x1="628.50" y1="544.16" x2="635.60" y2="544.16"/>
<line x1="110.25" y1="553.53" x2="117.35" y2="553.53"/>
<line x1="365.90" y1="553.53" x2="380.10" y2="553.53"/>
<line x1="628.50" y1="553.53" x2="635.60" y2="553.53"/>
</g>
<text x="63.3" y="69.44545454545454" font-family="Liberation Serif, serif" font-size="23.2" font-weight="normal" fill="#000" text-anchor="start" textLength="33.2" lengthAdjust="spacingAndGlyphs">0.5</text>
<text x="84.9" y="129.1840909090909" font-family="Liberation Serif, serif" font-size="23.2" font-weight="normal" fill="#000" text-anchor="start" textLength="11.6" lengthAdjust="spacingAndGlyphs">0</text>
<text x="63.3" y="188.9227272727273" font-family="Liberation Serif, serif" font-size="23.2" font-weight="normal" fill="#000" text-anchor="start" textLength="33.2" lengthAdjust="spacingAndGlyphs">0.5</text><line x1="46.9" y1="181.62" x2="59.5" y2="181.62" stroke="#000" stroke-width="1.35"/>
<text x="84.05" y="248.66136363636366" font-family="Liberation Serif, serif" font-size="23.2" font-weight="normal" fill="#000" text-anchor="start" textLength="11.25" lengthAdjust="spacingAndGlyphs">1</text><line x1="67.9" y1="241.36" x2="80.5" y2="241.36" stroke="#000" stroke-width="1.35"/>
<text x="84.9" y="355.23928571428576" font-family="Liberation Serif, serif" font-size="23.2" font-weight="normal" fill="#000" text-anchor="start" textLength="11.6" lengthAdjust="spacingAndGlyphs">0</text>
<text x="63.3" y="402.0785714285715" font-family="Liberation Serif, serif" font-size="23.2" font-weight="normal" fill="#000" text-anchor="start" textLength="33.2" lengthAdjust="spacingAndGlyphs">0.5</text><line x1="46.9" y1="394.78" x2="59.5" y2="394.78" stroke="#000" stroke-width="1.35"/>
<text x="84.05" y="448.91785714285714" font-family="Liberation Serif, serif" font-size="23.2" font-weight="normal" fill="#000" text-anchor="start" textLength="11.25" lengthAdjust="spacingAndGlyphs">1</text><line x1="67.9" y1="441.62" x2="80.5" y2="441.62" stroke="#000" stroke-width="1.35"/>
<text x="63.3" y="495.75714285714287" font-family="Liberation Serif, serif" font-size="23.2" font-weight="normal" fill="#000" text-anchor="start" textLength="33.2" lengthAdjust="spacingAndGlyphs">1.5</text><line x1="46.9" y1="488.46" x2="59.5" y2="488.46" stroke="#000" stroke-width="1.35"/>
<text x="83.5" y="542.5964285714285" font-family="Liberation Serif, serif" font-size="23.2" font-weight="normal" fill="#000" text-anchor="start" textLength="11.8" lengthAdjust="spacingAndGlyphs">2</text><line x1="67.6" y1="535.30" x2="80.19999999999999" y2="535.30" stroke="#000" stroke-width="1.35"/>
<text x="145.4222222222222" y="591.4" font-family="Liberation Serif, serif" font-size="23.2" font-weight="normal" fill="#000" text-anchor="start" textLength="11.4" lengthAdjust="spacingAndGlyphs">9</text>
<text x="197.26111111111106" y="591.4" font-family="Liberation Serif, serif" font-size="23.2" font-weight="normal" fill="#000" text-anchor="start" textLength="24.5" lengthAdjust="spacingAndGlyphs">10</text>
<text x="256.5" y="591.4" font-family="Liberation Serif, serif" font-size="23.2" font-weight="normal" fill="#000" text-anchor="start" textLength="22.8" lengthAdjust="spacingAndGlyphs">11</text>
<text x="314.28888888888883" y="591.4" font-family="Liberation Serif, serif" font-size="23.2" font-weight="normal" fill="#000" text-anchor="start" textLength="24" lengthAdjust="spacingAndGlyphs">12</text>
<text x="408.17222222222216" y="591.4" font-family="Liberation Serif, serif" font-size="23.2" font-weight="normal" fill="#000" text-anchor="start" textLength="11.4" lengthAdjust="spacingAndGlyphs">9</text>
<text x="460.01111111111106" y="591.4" font-family="Liberation Serif, serif" font-size="23.2" font-weight="normal" fill="#000" text-anchor="start" textLength="24.5" lengthAdjust="spacingAndGlyphs">10</text>
<text x="519.25" y="591.4" font-family="Liberation Serif, serif" font-size="23.2" font-weight="normal" fill="#000" text-anchor="start" textLength="22.8" lengthAdjust="spacingAndGlyphs">11</text>
<text x="577.0388888888888" y="591.4" font-family="Liberation Serif, serif" font-size="23.2" font-weight="normal" fill="#000" text-anchor="start" textLength="24" lengthAdjust="spacingAndGlyphs">12</text>
<text x="323.5" y="621.7" font-family="Liberation Serif, serif" font-size="22.5" font-weight="normal" fill="#000" text-anchor="start" textLength="33.5" lengthAdjust="spacingAndGlyphs">log</text>
<text x="370.4" y="621.7" font-family="Liberation Serif, serif" font-size="24" font-weight="normal" fill="#000" text-anchor="start" textLength="14.9" lengthAdjust="spacingAndGlyphs" stroke="#000" stroke-width="0.35" stroke-linejoin="round">M</text>
<g stroke="#000" stroke-width="1.55" stroke-linecap="round"><line x1="389.60" y1="619.20" x2="389.60" y2="624.20"/><line x1="391.77" y1="620.45" x2="387.43" y2="622.95"/><line x1="391.77" y1="622.95" x2="387.43" y2="620.45"/></g>
<line x1="394.7" y1="625.5" x2="406.9" y2="603.4" stroke="#000" stroke-width="1.5"/>
<text x="410.3" y="621.7" font-family="Liberation Serif, serif" font-size="24" font-weight="normal" fill="#000" text-anchor="start" textLength="14.6" lengthAdjust="spacingAndGlyphs" stroke="#000" stroke-width="0.35" stroke-linejoin="round">M</text>
<circle cx="431.7" cy="623.3" r="4.5" fill="none" stroke="#000" stroke-width="1.4"/><circle cx="431.7" cy="623.3" r="1.4" fill="#000"/>
<g transform="translate(25.1,221.6) rotate(-90)">
<text x="0" y="0" font-family="Liberation Serif, serif" font-size="22.5" font-weight="normal" fill="#000" text-anchor="start" textLength="30.5" lengthAdjust="spacingAndGlyphs">log</text>
<text x="46.2" y="0" font-family="Liberation Serif, serif" font-size="24" font-weight="normal" fill="#000" text-anchor="start" textLength="11.2" lengthAdjust="spacingAndGlyphs" stroke="#000" stroke-width="0.3" stroke-linejoin="round">Z</text>
<g stroke="#000" stroke-width="1.55" stroke-linecap="round"><line x1="62.40" y1="-1.90" x2="62.40" y2="3.10"/><line x1="64.57" y1="-0.65" x2="60.23" y2="1.85"/><line x1="64.57" y1="1.85" x2="60.23" y2="-0.65"/></g>
<line x1="66.2" y1="4.5" x2="80.6" y2="-18" stroke="#000" stroke-width="1.5"/>
<text x="82.5" y="0" font-family="Liberation Serif, serif" font-size="24" font-weight="normal" fill="#000" text-anchor="start" textLength="11.2" lengthAdjust="spacingAndGlyphs" stroke="#000" stroke-width="0.3" stroke-linejoin="round">Z</text>
<circle cx="99.8" cy="2" r="4.1" fill="none" stroke="#000" stroke-width="1.3"/><circle cx="99.8" cy="2" r="1.3" fill="#000"/>
</g>
<g transform="translate(25.1,478.5) rotate(-90)">
<text x="0" y="0" font-family="Liberation Serif, serif" font-size="22.5" font-weight="normal" fill="#000" text-anchor="start" textLength="30.5" lengthAdjust="spacingAndGlyphs">log</text>
<text x="44.8" y="0" font-family="Liberation Serif, serif" font-size="24" font-weight="normal" fill="#000" text-anchor="start" textLength="16.6" lengthAdjust="spacingAndGlyphs">Δ</text>
<text x="62" y="7.1" font-family="Liberation Sans, sans-serif" font-size="15.5" font-weight="normal" fill="#000" text-anchor="start" textLength="12.6" lengthAdjust="spacingAndGlyphs" stroke="#000" stroke-width="0.5" stroke-linejoin="round">68</text>
<text x="75.4" y="0" font-family="Liberation Serif, serif" font-size="24" font-weight="normal" fill="#000" text-anchor="start" textLength="11.2" lengthAdjust="spacingAndGlyphs" stroke="#000" stroke-width="0.3" stroke-linejoin="round">Z</text>
<g stroke="#000" stroke-width="1.55" stroke-linecap="round"><line x1="91.00" y1="-1.90" x2="91.00" y2="3.10"/><line x1="93.17" y1="-0.65" x2="88.83" y2="1.85"/><line x1="93.17" y1="1.85" x2="88.83" y2="-0.65"/></g>
</g>
<text transform="translate(282.9 193.5) scale(1.07 1)" font-family="Liberation Serif, serif" font-size="14.1" font-weight="normal" fill="#000" textLength="18.22" lengthAdjust="spacing" stroke="#000" stroke-width="0.4" stroke-linejoin="round">log</text>
<text transform="translate(310.7 193.5) scale(1.07 1)" font-family="Liberation Serif, serif" font-size="14.1" font-weight="normal" fill="#000" textLength="11.68" lengthAdjust="spacing" stroke="#000" stroke-width="0.4" stroke-linejoin="round">dt</text>
<text x="325.3" y="196.8" font-family="Liberation Serif, serif" font-size="10" font-weight="normal" fill="#000" text-anchor="start" textLength="4.3" lengthAdjust="spacingAndGlyphs" stroke="#000" stroke-width="0.4" stroke-linejoin="round">c</text>
<line x1="330.4" y1="195.6" x2="337.7" y2="183.4" stroke="#000" stroke-width="1.4"/>
<text x="338.5" y="193.5" font-family="Liberation Serif, serif" font-size="14.1" font-weight="normal" fill="#000" text-anchor="start" textLength="15.3" lengthAdjust="spacingAndGlyphs" stroke="#000" stroke-width="0.4" stroke-linejoin="round">yr</text>
<text x="280.1" y="214.8" font-family="Liberation Sans, sans-serif" font-size="13.4" font-weight="normal" fill="#006400" text-anchor="start" textLength="7.4" lengthAdjust="spacingAndGlyphs" stroke="#006400" stroke-width="0.5" stroke-linejoin="round">8</text>
<text x="280.1" y="232.9" font-family="Liberation Sans, sans-serif" font-size="13.4" font-weight="normal" fill="#1e90ff" text-anchor="start" textLength="7.4" lengthAdjust="spacingAndGlyphs" stroke="#1e90ff" stroke-width="0.5" stroke-linejoin="round">9</text>
<text x="275.6" y="250.7" font-family="Liberation Sans, sans-serif" font-size="13.4" font-weight="normal" fill="#ffa500" text-anchor="start" textLength="14" lengthAdjust="spacingAndGlyphs" stroke="#ffa500" stroke-width="0.5" stroke-linejoin="round">10</text>
<text transform="translate(192.2 282.0) scale(1.17 1)" font-family="Liberation Serif, serif" font-size="13.7" font-weight="normal" fill="#000" textLength="70.00" lengthAdjust="spacing" stroke="#000" stroke-width="0.4" stroke-linejoin="round">Gallazzi+05</text>
<text x="531.3" y="197" font-family="Liberation Serif, serif" font-size="14.2" font-weight="normal" fill="#1e90ff" text-anchor="start" textLength="22.7" lengthAdjust="spacingAndGlyphs" stroke="#1e90ff" stroke-width="0.55" stroke-linejoin="round">Z94</text>
<text x="519.4" y="220.9" font-family="Liberation Serif, serif" font-size="14.2" font-weight="normal" fill="#006400" text-anchor="start" textLength="34.2" lengthAdjust="spacingAndGlyphs" stroke="#006400" stroke-width="0.55" stroke-linejoin="round">KD02</text>
<text x="528" y="244.6" font-family="Liberation Serif, serif" font-size="14.2" font-weight="normal" fill="#ffa500" text-anchor="start" textLength="25.6" lengthAdjust="spacingAndGlyphs" stroke="#ffa500" stroke-width="0.55" stroke-linejoin="round">M10</text>
<text x="519.4" y="268.4" font-family="Liberation Serif, serif" font-size="14.2" font-weight="normal" fill="#b22222" text-anchor="start" textLength="33.6" lengthAdjust="spacingAndGlyphs" stroke="#b22222" stroke-width="0.55" stroke-linejoin="round">PP04</text>
<text transform="translate(219 510.9) scale(1.16 1)" font-family="Liberation Serif, serif" font-size="14.2" font-weight="normal" fill="#000" textLength="74.48" lengthAdjust="spacing" stroke="#000" stroke-width="0.33" stroke-linejoin="round">uncorrected</text>
<text transform="translate(218.7 538.8) scale(1.16 1)" font-family="Liberation Serif, serif" font-size="14.2" font-weight="normal" fill="#000" textLength="65.78" lengthAdjust="spacing" stroke="#000" stroke-width="0.33" stroke-linejoin="round">subtracted</text>
<g transform="translate(128.2,168.8) rotate(-23.2)"><text transform="translate(0 0) scale(1.0 1)" font-family="Liberation Serif, serif" font-size="15.5" font-weight="normal" fill="#b22222" textLength="49.80" lengthAdjust="spacing" stroke="#b22222" stroke-width="0.6" stroke-linejoin="round">α/Fe=1</text></g>
<g transform="translate(128.5,260.5) rotate(-27.5)"><text transform="translate(0 0) scale(1.13 1)" font-family="Liberation Serif, serif" font-size="15.4" font-weight="normal" fill="#000" textLength="97.17" lengthAdjust="spacing" stroke="#000" stroke-width="0.5" stroke-linejoin="round">mass−weighted</text></g>
</svg>
</body></html>
